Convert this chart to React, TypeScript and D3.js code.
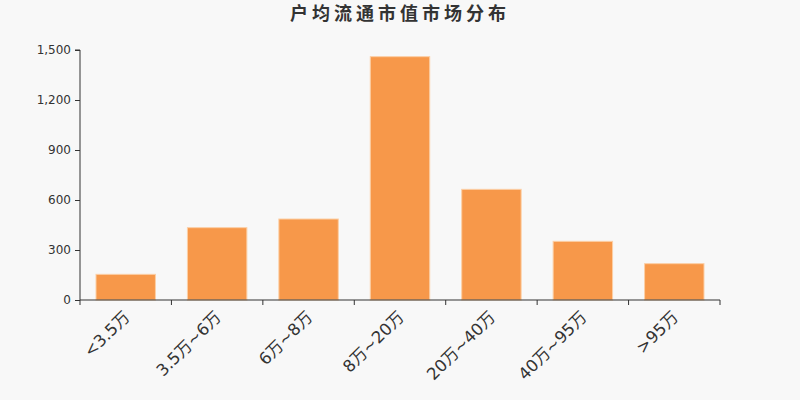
import * as d3 from 'd3';
import { useEffect, useRef } from 'react';

const title = '户均流通市值市场分布';
const categories = ['<3.5万', '3.5万~6万', '6万~8万', '8万~20万', '20万~40万', '40万~95万', '>95万'];
const values = [154, 434, 486, 1460, 664, 352, 218];
const yTicks = [0, 300, 600, 900, 1200, 1500];

const W = 800;
const H = 400;
const margin = { top: 50, right: 80, bottom: 100, left: 80 };

export default function App(): React.ReactElement {
  const svgRef = useRef<SVGSVGElement>(null);

  useEffect(() => {
    document.body.style.margin = '0';
    if (!svgRef.current) return;
    const svg = d3.select(svgRef.current);
    svg.selectAll('*').remove();

    svg.append('rect').attr('width', W).attr('height', H).attr('fill', '#f8f8f8');

    const x = d3
      .scaleBand<string>()
      .domain(categories)
      .range([margin.left, W - margin.right])
      .paddingInner(0.35)
      .paddingOuter(0.175);

    const y = d3
      .scaleLinear()
      .domain([0, 1500])
      .range([H - margin.bottom, margin.top]);

    // title
    svg
      .append('text')
      .attr('x', W / 2)
      .attr('y', 20)
      .attr('text-anchor', 'middle')
      .attr('fill', '#333')
      .style('font-family', '"Noto Sans CJK SC", sans-serif')
      .style('font-size', '18px')
      .style('font-weight', 'bold')
      .style('letter-spacing', '4px')
      .text(title);

    // bars
    svg
      .append('g')
      .selectAll('rect')
      .data(values)
      .enter()
      .append('rect')
      .attr('x', (_, i) => x(categories[i]) ?? 0)
      .attr('y', (d) => y(d))
      .attr('width', x.bandwidth())
      .attr('height', (d) => y(0) - y(d))
      .attr('fill', '#f7984a')
      .attr('stroke', '#fccfa6')
      .attr('stroke-width', 1);

    // y axis
    const yAxis = svg
      .append('g')
      .attr('transform', `translate(${margin.left},0)`)
      .call(
        d3
          .axisLeft(y)
          .tickValues(yTicks)
          .tickSize(5)
          .tickPadding(4)
          .tickFormat((d) => d3.format(',')(d as number))
      );
    yAxis.select('.domain').attr('stroke', '#333').attr('d', `M-5,${y(1500)}H0V${y(0)}`);
    yAxis.selectAll('line').attr('stroke', '#333');
    yAxis
      .selectAll('text')
      .attr('fill', '#333')
      .style('font-family', '"DejaVu Sans", sans-serif')
      .style('font-size', '12px');

    // x axis: ticks sit on the band boundaries
    const step = x.step();
    const gap = (step - x.bandwidth()) / 2;
    const boundaries = categories.map((c) => (x(c) ?? 0) - gap);
    boundaries.push(W - margin.right);
    const xg = svg.append('g');
    xg.append('line')
      .attr('x1', margin.left)
      .attr('x2', W - margin.right)
      .attr('y1', y(0))
      .attr('y2', y(0))
      .attr('stroke', '#333');
    xg.selectAll('line.tick')
      .data(boundaries)
      .enter()
      .append('line')
      .attr('class', 'tick')
      .attr('x1', (d) => d)
      .attr('x2', (d) => d)
      .attr('y1', y(0))
      .attr('y2', y(0) + 5)
      .attr('stroke', '#333');

    xg.selectAll('text')
      .data(categories)
      .enter()
      .append('text')
      .attr(
        'transform',
        (d) => `translate(${(x(d) ?? 0) + x.bandwidth() / 2 + 1},${y(0) + 14}) rotate(-45)`
      )
      .attr('text-anchor', 'end')
      .attr('dy', '0.35em')
      .attr('fill', '#333')
      .style('font-family', '"DejaVu Sans", "Noto Sans CJK SC", sans-serif')
      .style('font-size', '16.5px')
      .text((d) => d);
  }, []);

  return <svg ref={svgRef} width={W} height={H} style={{ display: 'block' }} />;
}
